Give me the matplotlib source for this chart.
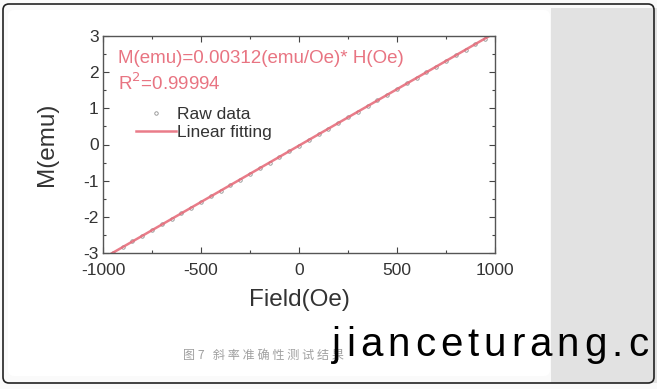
import matplotlib
matplotlib.use('Agg')
import matplotlib.pyplot as plt
from matplotlib.patches import FancyBboxPatch, Rectangle
import numpy as np

plt.rcParams['font.family'] = ['Liberation Sans', 'Noto Sans CJK SC', 'DejaVu Sans']
plt.rcParams['axes.unicode_minus'] = False

# raw data
field = [-1000, -950, -900, -850, -800, -750, -700, -650, -600, -550,
         -500, -450, -400, -350, -300, -250, -200, -150, -100, -50,
         0, 50, 100, 150, 200, 250, 300, 350, 400, 450,
         500, 550, 600, 650, 700, 750, 800, 850, 900, 950, 1000]
moment = [-3.15, -2.99, -2.84, -2.68, -2.53, -2.37, -2.21, -2.06, -1.90, -1.75,
          -1.59, -1.43, -1.28, -1.12, -0.97, -0.81, -0.65, -0.50, -0.34, -0.19,
          -0.03, 0.13, 0.28, 0.44, 0.59, 0.75, 0.91, 1.06, 1.22, 1.37,
          1.53, 1.69, 1.84, 2.00, 2.15, 2.31, 2.47, 2.62, 2.78, 2.93, 3.09]
slope = 0.00312
intercept = -0.03
x_ticks = [-1000, -500, 0, 500, 1000]
y_ticks = [-3, -2, -1, 0, 1, 2, 3]

W, H = 657, 389
fig = plt.figure(figsize=(W / 100, H / 100), dpi=100)
fig.patch.set_facecolor('white')

# screenshot frame: grey strip on the right, white card, rounded border
bg = fig.add_axes([0, 0, 1, 1])
bg.set_xlim(0, W)
bg.set_ylim(H, 0)
bg.axis('off')
bg.add_patch(Rectangle((0, 0), W, H, facecolor='#fafafa', edgecolor='none'))
bg.add_patch(Rectangle((551, 8), 110, 375, facecolor='#e2e2e2', edgecolor='none'))
bg.add_patch(FancyBboxPatch((8, 10), 542, 366, boxstyle='round,pad=0,rounding_size=6',
                            facecolor='white', edgecolor='none'))
bg.add_patch(FancyBboxPatch((3, 4), 651, 379, boxstyle='round,pad=0,rounding_size=6',
                            facecolor='none', edgecolor='#222222', lw=1.2))

ax = fig.add_axes([103 / W, 1 - 253 / H, 392 / W, 217 / H])
ax.set_facecolor('white')

red = '#e66574'
fx = np.array(field, dtype=float)
ax.plot(field, moment, 'o', ms=2.5, mfc='none', mec='#909090', mew=0.6, label='Raw data')
ax.plot(fx, slope * fx + intercept, '-', color=red, lw=1.8, alpha=0.85, label='Linear fitting')

ax.set_xlim(-1000, 1000)
ax.set_ylim(-3, 3)
ax.set_xticks(x_ticks)
ax.set_yticks(y_ticks)
ax.set_xticks(np.arange(-750, 1000, 500), minor=True)
ax.set_yticks(np.arange(-2.5, 3, 1), minor=True)
ax.tick_params(which='both', direction='in', top=True, right=True, colors='#444444',
               labelcolor='#333333', labelsize=12.5, width=0.8)
ax.tick_params(which='major', length=4)
ax.tick_params(which='minor', length=2.5)
ax.tick_params(axis='x', pad=7)
ax.tick_params(axis='y', pad=3)
for s in ax.spines.values():
    s.set_color('#555555')
    s.set_linewidth(1.0)

ax.set_xlabel('Field(Oe)', fontsize=17.5, color='#333333', labelpad=8)
ax.set_ylabel('M(emu)', fontsize=17.5, color='#333333', labelpad=18)

ax.text(0.038, 0.895, 'M(emu)=0.00312(emu/Oe)* H(Oe)', transform=ax.transAxes,
        color=red, fontsize=13.5, va='center', alpha=0.9)
ax.text(0.038, 0.78, r'R$^2$=0.99994', transform=ax.transAxes,
        color=red, fontsize=13.5, va='center', alpha=0.9)

leg = ax.legend(loc='upper left', bbox_to_anchor=(0.066, 0.705), frameon=False,
                fontsize=12.5, handlelength=2.3, handletextpad=0.05, borderaxespad=0,
                labelspacing=0.15, markerscale=1.0)
for t in leg.get_texts():
    t.set_color('#333333')

fig.text(183 / W, 1 - 355 / H, '图 7   斜 率 准 确 性 测 试 结 果', fontsize=8.7, color='#a0a0a0',
         va='center', family=['Noto Sans CJK SC', 'DejaVu Sans'])

# big watermark, spread out letter by letter
renderer = fig.canvas.get_renderer()
xpos = 332
for ch in 'jianceturang.c':
    t = fig.text(xpos / W, 1 - 356 / H, ch, fontsize=29, color='black', va='baseline',
                 family=['Liberation Sans'])
    xpos += t.get_window_extent(renderer).width + 5.0

fig.savefig('out.png', dpi=100)
